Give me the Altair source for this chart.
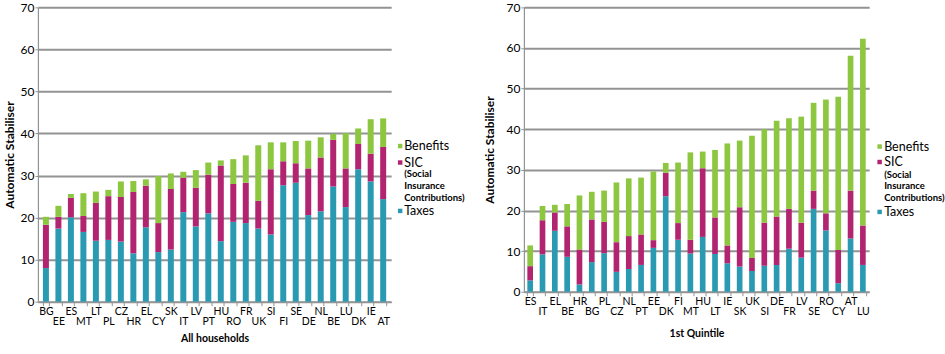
import json
import altair as alt
import pandas as pd

# ---------------- data ----------------
components = ["Taxes", "SIC", "Benefits"]
colors = ["#2A9AB2", "#B22370", "#8DC63F"]

cats_all = ["BG", "EE", "ES", "MT", "LT", "PL", "CZ", "HR", "EL", "CY", "SK", "IT", "LV", "PT",
            "HU", "RO", "FR", "UK", "SI", "FI", "SE", "DE", "NL", "BE", "LU", "DK", "IE", "AT"]
taxes_all = [8.0, 17.4, 20.1, 16.6, 14.5, 14.7, 14.3, 11.5, 17.7, 11.8, 12.4, 21.3, 17.9, 21.0,
             14.4, 19.0, 18.7, 17.4, 16.0, 27.7, 28.3, 20.6, 21.5, 27.4, 22.5, 31.5, 28.6, 24.4]
sic_all = [10.3, 2.8, 4.6, 3.8, 9.0, 10.4, 10.6, 14.6, 9.9, 6.9, 14.4, 8.2, 9.2, 9.2,
           18.0, 9.0, 9.6, 6.6, 15.5, 5.7, 4.6, 11.1, 12.8, 11.1, 9.2, 6.0, 6.6, 12.4]
ben_all = [1.9, 2.6, 0.9, 5.4, 2.7, 1.5, 3.7, 2.6, 1.5, 11.2, 3.7, 1.4, 4.2, 2.9,
           1.2, 5.9, 6.5, 13.2, 6.4, 4.5, 5.3, 6.6, 4.8, 1.4, 8.4, 3.7, 8.2, 6.8]

cats_q1 = ["ES", "IT", "EL", "BE", "HR", "BG", "PL", "CZ", "NL", "PT", "EE", "DK", "FI", "MT",
           "HU", "LT", "IE", "SK", "UK", "SI", "DE", "FR", "LV", "SE", "RO", "CY", "AT", "LU"]
taxes_q1 = [2.8, 9.2, 15.0, 8.6, 1.8, 7.3, 9.5, 4.9, 5.6, 6.6, 10.8, 23.5, 12.8, 9.4,
            13.5, 9.3, 7.0, 6.2, 5.1, 6.4, 6.6, 10.6, 8.4, 20.4, 15.1, 2.1, 13.1, 6.6]
sic_q1 = [3.5, 8.4, 4.5, 7.5, 8.6, 10.5, 7.7, 7.3, 8.1, 7.5, 1.9, 5.8, 4.1, 3.4,
          16.9, 9.0, 4.4, 14.6, 3.2, 10.6, 11.9, 9.8, 8.6, 4.5, 4.2, 8.2, 11.8, 9.7]
ben_q1 = [5.1, 3.5, 1.9, 5.5, 13.3, 6.8, 7.7, 14.7, 14.2, 14.0, 16.9, 2.4, 14.9, 21.5,
          4.1, 16.6, 25.1, 16.4, 30.1, 23.0, 23.6, 22.3, 26.1, 21.6, 28.0, 37.7, 33.2, 46.0]

y_ticks = [0, 10, 20, 30, 40, 50, 60, 70]

FONT = "Lato"
GRID = "#939393"


def long_df(cats, taxes, sic, ben):
    rows = []
    for c, t, s, b in zip(cats, taxes, sic, ben):
        for rank, (name, v) in enumerate(zip(components, (t, s, b))):
            rows.append({"country": c, "component": name, "value": v, "rank": rank})
    return pd.DataFrame(rows)


one = alt.Data(values=[{"a": 1}])


def legend_layers(sq_x, txt_x, y_ben, y_sic, y_sub, y_tax):
    layers = []
    for name, col, y in (("Benefits", colors[2], y_ben), ("SIC", colors[1], y_sic), ("Taxes", colors[0], y_tax)):
        layers.append(alt.Chart(one).mark_square(size=20, color=col, opacity=1)
                      .encode(x=alt.value(sq_x), y=alt.value(y)))
        layers.append(alt.Chart(one).mark_text(align="left", baseline="middle", font=FONT,
                                               fontSize=12.5, color="black", text=name)
                      .encode(x=alt.value(txt_x), y=alt.value(y)))
    for line, y in zip(["(Social", "Insurance", "Contributions)"], y_sub):
        layers.append(alt.Chart(one).mark_text(align="left", baseline="middle", font=FONT,
                                               fontSize=9.5, fontWeight="bold", color="black", text=line)
                      .encode(x=alt.value(txt_x), y=alt.value(y)))
    return layers


def panel(cats, taxes, sic, ben, xtitle, width, height, p_in, p_out, ytp, xtp, leg):
    df = long_df(cats, taxes, sic, ben)
    stagger = "indexof(%s, datum.value) %% 2 == 1 ? ['', datum.value] : datum.value" % json.dumps(cats)
    bars = alt.Chart(df).mark_bar().encode(
        x=alt.X("country:N", sort=cats,
                scale=alt.Scale(paddingInner=p_in, paddingOuter=p_out),
                axis=alt.Axis(title=xtitle, labelAngle=0, labelExpr=stagger, labelLineHeight=10,
                              labelFont=FONT, labelFontSize=10.5, labelPadding=1, labelColor="black",
                              tickBand="extent", tickSize=4, tickColor=GRID, domainColor=GRID,
                              domainWidth=1.2, titleFont=FONT, titleFontSize=10.5,
                              titleFontWeight="bold", titleColor="black", titlePadding=xtp)),
        y=alt.Y("value:Q", stack="zero",
                scale=alt.Scale(domain=[0, 70], nice=False),
                axis=alt.Axis(title="Automatic Stabiliser", values=y_ticks, grid=True,
                              gridColor=GRID, gridWidth=2, domainColor=GRID, domainWidth=1.2,
                              tickColor=GRID, tickSize=3, labelPadding=1, labelFont=FONT,
                              labelFontSize=12, labelColor="black", titleFont=FONT,
                              titleFontSize=12, titleFontWeight="bold", titleColor="black",
                              titlePadding=ytp)),
        color=alt.Color("component:N", scale=alt.Scale(domain=components, range=colors), legend=None),
        order=alt.Order("rank:Q", sort="ascending"),
    )
    return alt.layer(bars, *legend_layers(*leg)).properties(width=width, height=height)


left = panel(cats_all, taxes_all, sic_all, ben_all, "All households", 354, 295, 0.52, 0.4, 4, 6,
             (363, 367, 139, 155.5, [167, 179, 191], 204))
right = panel(cats_q1, taxes_q1, sic_q1, ben_q1, "1st Quintile", 346, 285, 0.54, 0.28, 10, 11,
              (356.5, 361, 139.5, 155, [168, 179, 191], 205))

chart = (alt.hconcat(left, right, spacing=133, bounds="flush")
         .properties(padding={"left": 3, "top": 1, "right": 0, "bottom": 0})
         .configure_view(stroke=None))

chart.save("out.html", embed_options={"renderer": "svg", "actions": False})
